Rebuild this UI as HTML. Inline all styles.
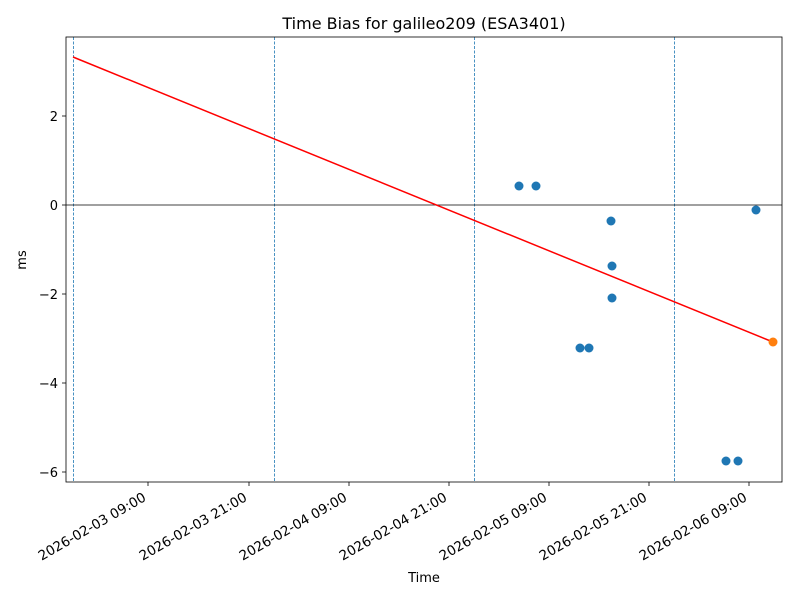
<!DOCTYPE html>
<html><head><meta charset="utf-8"><style>body{margin:0;background:#fff}svg{display:block}</style></head><body>
<svg width="800" height="600" xmlns="http://www.w3.org/2000/svg" font-family="DejaVu Sans, Liberation Sans, sans-serif">
<rect width="800" height="600" fill="#fff"/>
<g stroke="#1f77b4" stroke-width="0.8" stroke-dasharray="3,1.5">
<line x1="73.5" y1="37" x2="73.5" y2="482"/><line x1="274.5" y1="37" x2="274.5" y2="482"/>
<line x1="474.5" y1="37" x2="474.5" y2="482"/><line x1="674.5" y1="37" x2="674.5" y2="482"/>
</g>
<line x1="66" y1="205" x2="782" y2="205" stroke="#000" stroke-width="0.8"/>
<line x1="73" y1="57" x2="773" y2="342" stroke="#f00" stroke-width="1.5"/>
<g fill="#1f77b4">
<circle cx="519" cy="186" r="4.5"/><circle cx="536" cy="186" r="4.5"/><circle cx="611" cy="221" r="4.5"/>
<circle cx="612" cy="266" r="4.5"/><circle cx="612" cy="298" r="4.5"/><circle cx="580" cy="348" r="4.5"/>
<circle cx="589" cy="348" r="4.5"/><circle cx="726" cy="461" r="4.5"/><circle cx="738" cy="461" r="4.5"/>
<circle cx="756" cy="210" r="4.5"/></g>
<circle cx="773" cy="342" r="4.5" fill="#ff7f0e"/>
<rect x="66" y="37" width="716" height="445" fill="none" stroke="#000" stroke-width="0.8"/>
<g stroke="#000" stroke-width="0.8">
<line x1="62" y1="116" x2="66" y2="116"/><line x1="62" y1="205" x2="66" y2="205"/><line x1="62" y1="294" x2="66" y2="294"/>
<line x1="62" y1="383" x2="66" y2="383"/><line x1="62" y1="472" x2="66" y2="472"/>
<line x1="148" y1="482" x2="148" y2="486"/><line x1="249" y1="482" x2="249" y2="486"/><line x1="349" y1="482" x2="349" y2="486"/>
<line x1="449" y1="482" x2="449" y2="486"/><line x1="549" y1="482" x2="549" y2="486"/><line x1="649" y1="482" x2="649" y2="486"/>
<line x1="749" y1="482" x2="749" y2="486"/></g>
<g font-size="13" text-anchor="end" fill="#000">
<text x="58" y="121">2</text><text x="58" y="210">0</text><text x="58" y="299">−2</text>
<text x="58" y="388">−4</text><text x="58" y="477">−6</text></g>
<g font-size="13.5" text-anchor="end" fill="#000">
<text transform="translate(147,500) rotate(-30)">2026-02-03 09:00</text>
<text transform="translate(248,500) rotate(-30)">2026-02-03 21:00</text>
<text transform="translate(348,500) rotate(-30)">2026-02-04 09:00</text>
<text transform="translate(448,500) rotate(-30)">2026-02-04 21:00</text>
<text transform="translate(548,500) rotate(-30)">2026-02-05 09:00</text>
<text transform="translate(648,500) rotate(-30)">2026-02-05 21:00</text>
<text transform="translate(748,500) rotate(-30)">2026-02-06 09:00</text>
</g>
<text x="424" y="582" font-size="13" text-anchor="middle">Time</text>
<text transform="translate(26,260) rotate(-90)" font-size="13" text-anchor="middle">ms</text>
<text x="424" y="29" font-size="16" text-anchor="middle">Time Bias for galileo209 (ESA3401)</text>
</svg>
</body></html>
